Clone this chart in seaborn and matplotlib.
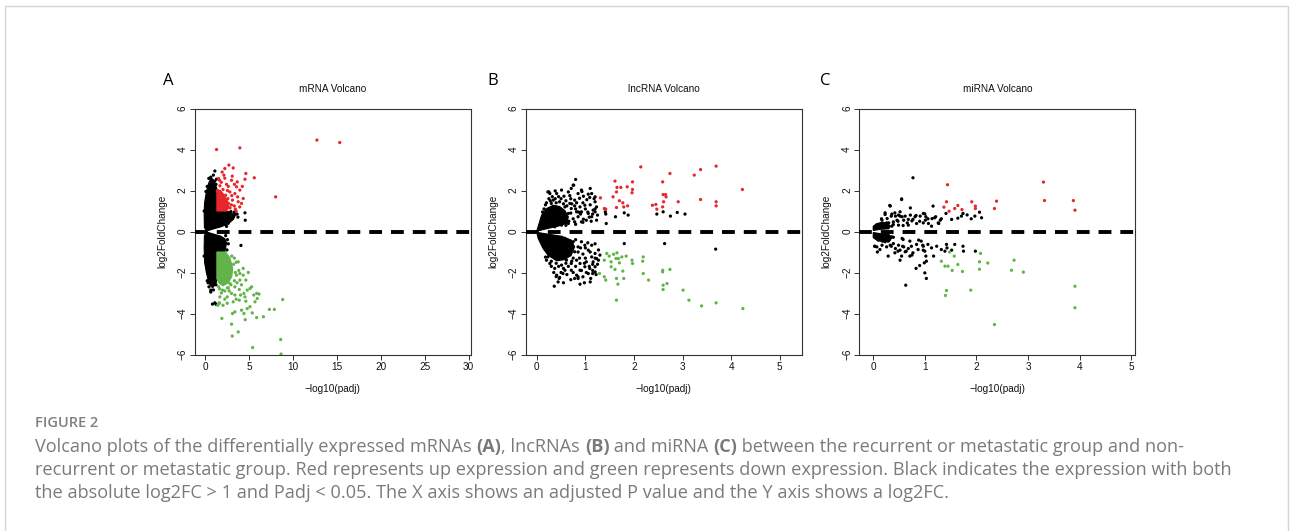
import matplotlib
matplotlib.use("Agg")
import matplotlib.pyplot as plt
import matplotlib.patches as mpatches
import numpy as np
import pandas as pd
import seaborn as sns

# ---------------- data ----------------
panel_letters = ["A", "B", "C"]
panel_titles = ["mRNA Volcano", "lncRNA Volcano", "miRNA Volcano"]
x_label = "\u2212log10(padj)"
y_label = "log2FoldChange"
y_ticks = [-6, -4, -2, 0, 2, 4, 6]
A_x_ticks = [0, 5, 10, 15, 20, 25, 30]
B_x_ticks = [0, 1, 2, 3, 4, 5]
C_x_ticks = [0, 1, 2, 3, 4, 5]
A_xlim = (-1.25, 30.2)
B_xlim = (-0.227, 5.45)
C_xlim = (-0.27, 5.08)

# ---- panel A (mRNA): dense regions as outlines, scattered points listed ----
A_black_up_x = [0.1, -0.12, -0.15, -0.1, 0.05, 0.25, 0.45, 0.7, 0.95, 1.1, 1.3, 1.3, 2.0, 2.6, 3.0, 3.4, 3.2, 2.8, 2.3, 1.7, 1.1]
A_black_up_y = [0.02, 0.2, 0.9, 1.4, 1.8, 2.2, 2.45, 2.6, 2.5, 2.3, 2.1, 1.0, 1.0, 0.98, 0.92, 0.78, 0.6, 0.45, 0.32, 0.22, 0.15]
A_black_dn_x = [0.1, 1.1, 1.7, 2.2, 2.4, 2.3, 2.2, 1.3, 1.3, 1.1, 0.8, 0.5, 0.3, 0.1, -0.1, -0.15, -0.12]
A_black_dn_y = [-0.02, -0.15, -0.22, -0.35, -0.55, -0.8, -1.0, -1.0, -2.4, -2.6, -2.75, -2.6, -2.35, -2.0, -1.5, -0.8, -0.2]
A_red_block_x = [1.3, 2.4, 2.7, 2.5, 2.1, 1.7, 1.3]
A_red_block_y = [1.0, 1.0, 1.2, 1.5, 1.8, 2.0, 2.05]
A_green_block_x = [1.3, 2.3, 2.8, 3.1, 3.0, 2.6, 2.0, 1.5, 1.3]
A_green_block_y = [-1.0, -1.0, -1.3, -1.8, -2.2, -2.5, -2.65, -2.5, -2.3]

A_red_x = [1.26, 3.92, 12.7, 15.3, 2.67, 3.16, 2.2, 1.9, 4.6, 5.56, 1.49, 2.97, 3.62, 4.5, 8.0,
           2.4, 3.54, 3.92, 4.3, 4.11, 2.0, 2.78, 3.35, 3.66, 2.3, 3.08, 2.63, 3.28, 1.64, 1.35, 3.73,
           2.8, 2.95, 2.55, 1.8, 3.0, 2.2, 3.4,
           2.1, 2.5, 3.3, 2.0, 3.9, 4.2, 3.5, 2.6, 1.6, 3.05]
A_red_y = [4.0, 4.08, 4.46, 4.34, 3.24, 3.1, 3.07, 2.9, 2.83, 2.62, 2.59, 2.5, 2.42, 2.55, 1.69,
           2.3, 2.18, 2.02, 1.61, 1.37, 2.05, 1.93, 1.85, 1.69, 1.77, 1.53, 1.37, 1.25, 2.23, 1.98, 1.45,
           1.15, 1.3, 1.6, 2.4, 1.75, 2.6, 1.1,
           2.75, 2.0, 2.3, 1.5, 1.2, 2.2, 1.0, 2.2, 2.5, 2.7]
A_black_x = [1.07, 0.38, 4.5, 4.53, 4.04, 0.8, 1.07, 0.61, 1.2, 3.4, 2.78,
             0.9, 0.6, 1.05, 1.2, 1.25, 0.2, 0.05, 3.6, 3.7, 3.3, 2.9, 2.6, 2.4, 2.7,
             2.5, 2.6, 2.45, 2.3, 1.2, 0.9, 0.6, 0.3, 0.4, -0.15, -0.15, 1.1, 0.2]
A_black_y = [2.95, 2.59, 0.91, 0.55, -0.68, -3.54, -3.48, -2.86, -3.55, 0.85, 0.67,
             2.75, 2.65, 2.45, 2.3, 2.55, 2.2, 1.95, 0.85, 0.7, 0.95, 0.97, 0.4, 0.25, 0.55,
             -0.4, -0.6, -0.9, -0.2, -2.6, -2.85, -2.95, -2.5, -2.7, -1.2, 1.0, -2.45, -2.4]
A_green_x = [4.88, 4.6, 3.92, 3.54, 4.3, 5.07, 5.26, 4.76, 4.38, 3.85, 3.35, 2.97, 2.48, 1.94, 1.64,
             1.56, 1.4, 2.48, 3.16, 3.85, 4.5, 5.83, 5.9, 5.64, 4.76, 5.07, 4.38, 5.33, 4.11, 3.35,
             3.08, 5.83, 6.6, 7.28, 7.85, 8.8, 1.87, 2.97, 3.05, 3.73, 4.53, 8.57, 5.37, 8.61,
             2.3, 2.78, 3.35, 3.92, 4.3, 3.73, 3.2, 3.4, 2.9, 1.6, 2.2, 3.0, 3.5, 1.5, 2.6,
             3.6, 4.1, 2.7, 3.3, 4.6, 2.2, 1.8, 3.5, 5.5, 4.0, 2.5, 3.8, 3.3, 1.6, 2.0, 6.1]
A_green_y = [-2.0, -2.37, -2.37, -2.13, -2.13, -2.78, -2.7, -2.86, -3.02, -2.83, -3.1, -3.02, -3.19, -2.86, -3.19,
             -3.48, -3.6, -3.5, -3.43, -3.35, -3.19, -3.02, -3.27, -3.43, -3.76, -3.67, -4.0, -3.97, -3.84, -3.92,
             -4.0, -4.2, -4.16, -3.8, -3.8, -3.32, -4.24, -4.52, -5.1, -4.9, -4.3, -5.27, -5.66, -5.98,
             -2.34, -2.54, -2.7, -2.05, -1.8, -1.48, -1.6, -2.0, -2.6, -2.8, -2.9, -1.2, -1.5, -2.7, -2.75,
             -2.5, -2.6, -2.9, -2.4, -3.4, -3.3, -3.0, -3.3, -3.1, -3.1, -2.75, -1.9, -1.3, -3.5, -3.6, -3.05]

# ---- panel B (lncRNA) ----
B_core_up_x = [0.0, 0.05, 0.1, 0.2, 0.34, 0.47, 0.58, 0.65, 0.62, 0.44, 0.23, 0.06]
B_core_up_y = [0.02, 0.4, 0.8, 1.12, 1.28, 1.22, 1.02, 0.72, 0.4, 0.26, 0.15, 0.05]
B_core_dn_x = [0.0, 0.23, 0.51, 0.71, 0.78, 0.71, 0.58, 0.41, 0.23, 0.13, 0.03]
B_core_dn_y = [-0.04, -0.13, -0.23, -0.42, -0.75, -1.15, -1.37, -1.43, -1.15, -0.83, -0.34]
B_red_x = [1.31, 1.39, 1.42, 1.57, 1.61, 1.64, 1.65, 1.73, 1.70, 1.77, 1.79, 1.64, 1.86, 1.87, 1.96, 1.97,
           1.97, 2.14, 2.38, 2.45, 2.47, 2.59, 2.6, 2.65, 2.66, 2.61, 2.59, 2.74, 2.91, 3.24, 3.37, 3.37,
           3.69, 3.69, 3.69, 4.23]
B_red_y = [1.64, 1.12, 1.09, 1.69, 2.46, 1.93, 2.15, 2.15, 1.5, 1.4, 1.2, 1.17, 2.18, 1.25, 1.89, 2.05,
           2.42, 3.15, 1.28, 1.32, 1.09, 2.42, 1.8, 1.8, 1.69, 1.45, 1.2, 2.83, 1.45, 2.75, 3.02, 1.56,
           3.19, 1.45, 1.25, 2.05]
B_green_x = [1.29, 1.39, 1.42, 1.39, 1.44, 1.49, 1.53, 1.53, 1.58, 1.65, 1.63, 1.61, 1.68, 1.70, 1.75,
             1.77, 1.64, 1.67, 1.79, 1.64, 1.84, 1.96, 1.97, 2.19, 2.18, 2.19, 2.3, 2.59, 2.59, 2.74,
             2.6, 2.6, 2.68, 3.01, 3.13, 3.39, 3.69, 4.24]
B_green_y = [-2.05, -2.21, -2.37, -1.4, -1.07, -1.2, -1.48, -1.72, -1.11, -1.04, -1.32, -1.85, -1.32, -1.53, -1.24,
             -1.93, -2.29, -2.57, -2.29, -3.35, -1.2, -1.4, -1.56, -1.24, -1.45, -2.05, -2.37, -1.89, -1.97, -1.85,
             -2.62, -2.83, -2.54, -2.86, -3.35, -3.63, -3.48, -3.76]
B_black_x = [1.41, 1.42, 1.43, 1.62, 1.8, 1.88, 2.47, 2.6, 2.75, 2.89, 3.05, 1.8, 2.63, 3.68,
             0.75, 0.71, 0.92, 1.06, 1.09, 0.96, 0.85, 0.65, 0.56, 0.51, 0.41, 0.27, 0.23, 0.34, 0.47, 0.78,
             1.2, 1.23, 1.16, 1.06, 0.99, 0.89, 0.92, 0.82, 0.71, 0.65, 0.58, 0.85, 1.13, 1.02, 0.92, 0.78,
             0.65, 0.51, 0.37, 1.23, 1.2, 0.68, 0.58, 0.44, 0.3, 0.8, 0.76, 0.25, 0.38, 1.1, 1.13, 1.2,
             0.6, 0.62, 0.7, 0.72, 0.8, 0.82, 0.88, 0.9, 0.95, 1.0, 1.03, 1.08, 1.1, 1.15, 0.75, 0.7,
             0.66, 0.55, 0.5, 0.45, 0.38, 0.32, 0.28, 0.4, 0.55, 0.78, 0.86, 0.96, 1.05, 1.2, 1.25, 1.18,
             0.93, 0.68, 0.2, 0.15, 0.12, 0.18, 0.25, 0.6, 0.8, 0.95, 1.12,
             0.36, 0.44, 0.47, 0.54, 0.71, 0.82, 0.85, 0.89, 0.99, 0.95, 1.06, 1.09, 1.16, 1.13, 1.2,
             1.23, 1.06, 0.99, 0.92, 0.85, 0.78, 0.68, 0.61, 0.51, 0.37, 0.27, 0.23, 0.75, 0.58, 1.13,
             1.02, 0.89, 0.82, 0.71, 1.2, 1.11, 0.89, 0.98, 1.1, 0.78, 0.85, 0.46, 0.41, 0.58, 1.15, 1.2,
             1.27, 0.6, 0.7, 0.8, 0.9, 0.95, 1.0, 1.05, 1.1, 1.15, 1.2, 0.88, 0.8, 0.75, 0.65, 0.6, 0.55,
             0.45, 0.4, 0.3, 0.35, 0.5, 0.62, 0.75, 0.92, 1.02, 1.25, 1.27, 1.2, 1.0, 0.85, 0.7, 0.55,
             0.2, 0.18, 1.3, 1.15, 0.98, 0.68, 0.72, 1.08, 1.22, 0.4, 0.3]
B_black_y = [0.96, 0.85, 0.39, 0.72, 0.91, 0.8, 0.85, 0.96, 0.75, 0.93, 0.85, -0.59, -0.59, -0.86,
             2.26, 2.1, 2.02, 1.82, 1.66, 1.72, 1.85, 1.93, 1.72, 2.02, 1.85, 1.85, 1.93, 1.53, 1.45, 1.53,
             1.45, 1.2, 1.04, 0.88, 1.28, 1.2, 0.96, 0.96, 1.12, 0.88, 0.72, 0.72, 0.72, 0.55, 0.47, 0.47,
             0.39, 0.31, 0.23, 0.55, 0.96, 1.37, 1.2, 1.04, 1.37, 2.54, 2.26, 1.93, 1.98, 2.1, 1.85, 1.69,
             1.5, 1.25, 1.6, 1.35, 1.1, 1.4, 1.62, 0.85, 1.4, 1.1, 1.55, 0.7, 1.3, 0.85, 0.62, 0.9,
             0.5, 0.45, 1.6, 1.7, 1.6, 1.7, 1.5, 1.4, 1.35, 1.25, 0.95, 0.6, 0.95, 1.1, 0.8, 1.6,
             1.95, 1.75, 1.4, 1.1, 0.95, 1.3, 1.6, 0.3, 0.35, 0.45, 0.5,
             -2.67, -2.46, -2.24, -2.05, -1.89, -2.13, -2.29, -1.89, -1.72, -2.21, -2.05, -1.8, -1.48, -1.24, -1.07,
             -1.32, -0.91, -0.67, -0.5, -0.75, -0.99, -1.15, -1.4, -1.64, -1.8, -1.56, -1.24, -0.5, -0.34, -0.67,
             -1.48, -1.56, -1.4, -1.56, -1.97, -2.29, -2.57, -2.5, -2.46, -2.29, -2.21, -2.29, -2.13, -1.89, -2.05, -1.72,
             -1.4, -0.45, -0.6, -0.4, -0.8, -1.1, -1.3, -0.55, -1.0, -1.6, -1.3, -1.3, -1.7, -1.3, -1.7, -1.55, -1.8,
             -1.7, -1.55, -1.45, -2.0, -2.0, -2.1, -2.0, -1.9, -2.0, -1.6, -0.9, -0.6, -0.8, -1.0, -2.35, -2.5,
             -1.4, -1.25, -1.15, -1.9, -1.55, -1.0, -1.45, -1.7, -2.1, -2.2, -1.7]

# ---- panel C (miRNA) ----
C_core_up_x = [0.0, 0.0, 0.06, 0.16, 0.28, 0.33, 0.3, 0.15, 0.05]
C_core_up_y = [0.05, 0.25, 0.38, 0.44, 0.4, 0.25, 0.13, 0.11, 0.07]
C_core_dn_x = [0.0, 0.05, 0.15, 0.3, 0.36, 0.32, 0.2, 0.08, 0.0]
C_core_dn_y = [-0.05, -0.07, -0.11, -0.13, -0.3, -0.46, -0.5, -0.44, -0.3]
C_red_x = [1.44, 1.42, 1.37, 1.47, 1.58, 1.64, 1.72, 1.91, 1.98, 1.98, 2.35, 2.39, 3.3, 3.32, 3.88, 3.91]
C_red_y = [2.28, 1.45, 1.19, 0.99, 1.12, 1.27, 1.07, 1.45, 1.24, 1.12, 1.12, 1.48, 2.41, 1.51, 1.51, 1.04]
C_green_x = [1.32, 1.39, 1.45, 1.48, 1.53, 1.57, 1.64, 1.73, 1.42, 1.4, 1.89, 2.08, 2.06, 2.06, 2.22,
             2.35, 2.68, 2.73, 2.91, 3.91, 3.91]
C_green_y = [-1.45, -1.69, -1.69, -1.0, -1.9, -1.2, -1.61, -1.95, -2.88, -3.12, -2.86, -1.07, -1.48, -1.84, -1.54,
             -4.54, -1.89, -1.4, -1.98, -2.67, -3.72]
C_black_x = [0.77, 0.55, 0.32, 0.72, 1.16, 0.83, 1.0, 1.02, 1.19, 1.26, 1.32, 1.41, 1.52, 1.71, 1.74, 1.82,
             1.9, 1.97, 2.06, 2.1, 1.64, 0.66, 0.48, 0.9, 0.97, 1.06, 0.52, 0.42, 0.35, 0.23, 0.16, 0.26,
             0.39, 0.58, 0.77, 1.13,
             0.03, 0.08, 0.18, 0.29, 0.35, 0.42, 0.48, 0.55, 0.57, 0.64, 0.71, 0.77, 0.74, 0.84, 0.87, 0.93,
             0.97, 1.0, 1.02, 1.03, 0.99, 1.06, 1.13, 1.17, 1.23, 1.32, 1.39, 1.43, 1.52, 1.58, 1.74, 1.75,
             1.98, 0.83, 0.9, 1.0, 1.03, 0.63, 0.52, 0.29, 0.13, 0.71, 0.58, 0.39, 1.42,
             0.33, 0.55, 0.23, 0.36, 0.43, 0.49, 0.56, 0.62, 0.46, 0.39, 0.3, 0.2, 0.14, 0.07, 0.04, 0.17,
             0.27, 0.52, 0.59, 0.68, 0.72, 0.75, 0.81, 0.84, 0.91, 0.97, 1.01, 1.07, 1.14, 1.21, 1.27, 1.3,
             0.68, 0.49, 0.36, 0.23, 0.1,
             0.04, 0.1, 0.17, 0.23, 0.3, 0.33, 0.39, 0.43, 0.49, 0.52, 0.59, 0.62, 0.68, 0.75, 0.2, 0.36,
             0.56, 0.26, 0.17, 0.07, 0.03, 0.88, 0.96, 0.97]
C_black_y = [2.62, 1.59, 1.27, 1.15, 1.24, 0.78, 0.86, 0.72, 0.67, 0.42, 0.62, 0.88, 0.59, 0.75, 0.88, 0.81,
             0.62, 0.75, 0.94, 0.67, 0.65, 0.42, 0.5, 0.5, 0.42, 0.62, 0.75, 0.91, 0.75, 0.83, 0.62, 0.42,
             0.34, 0.29, 0.59, 0.26,
             -0.72, -1.0, -0.47, -0.47, -0.72, -1.04, -0.96, -1.2, -0.72, -0.96, -1.2, -1.04, -0.72, -0.63, -0.88, -0.47,
             -0.72, -0.96, -1.2, -1.45, -1.53, -0.63, -0.8, -1.2, -0.72, -0.88, -0.96, -0.8, -0.91, -0.63, -0.72, -0.96,
             -0.96, -1.8, -1.66, -2.02, -2.29, -2.62, -1.4, -1.2, -0.88, -0.47, -0.39, -0.28, -0.63,
             1.24, 1.56, 0.91, 0.85, 0.75, 0.8, 0.72, 0.75, 0.55, 0.47, 0.42, 0.39, 0.31, 0.23, 0.15, 0.55,
             0.63, 0.96, 0.55, 0.59, 0.8, 0.52, 0.72, 0.39, 0.75, 0.88, 0.55, 0.39, 0.63, 0.72, 0.39, 0.55,
             0.31, 0.31, 0.26, 0.23, 0.2,
             -0.26, -0.42, -0.34, -0.5, -0.42, -0.67, -0.59, -0.83, -0.67, -0.91, -0.75, -0.99, -0.83, -1.15, -0.18, -0.26,
             -0.34, -0.75, -0.67, -0.75, -0.72, -0.42, -0.67, -0.91]

caption_head = "FIGURE 2"
caption_line1 = [("Volcano plots of the differentially expressed mRNAs ", "normal"), ("(A)", "bold"),
                 (", lncRNAs ", "normal"), ("(B)", "bold"), (" and miRNA ", "normal"), ("(C)", "bold"),
                 (" between the recurrent or metastatic group and non-", "normal")]
caption_line2 = "recurrent or metastatic group. Red represents up expression and green represents down expression. Black indicates the expression with both"
caption_line3 = "the absolute log2FC > 1 and Padj < 0.05. The X axis shows an adjusted P value and the Y axis shows a log2FC."

# ---------------- styling ----------------
sns.set_theme(style="white")
plt.rcParams['font.family'] = ['Liberation Sans', 'DejaVu Sans']
plt.rcParams['axes.unicode_minus'] = True

W, H = 1290, 531
fig = plt.figure(figsize=(W / 100, H / 100), dpi=100)
fig.patch.set_facecolor("white")

palette = {"ns": "#000000", "up": "#e8262b", "down": "#62b34a"}
RED, GREEN, BLACK = palette["up"], palette["down"], palette["ns"]


def make_df(bx, by, rx, ry, gx, gy):
    return pd.DataFrame({
        "x": list(bx) + list(rx) + list(gx),
        "y": list(by) + list(ry) + list(gy),
        "g": ["ns"] * len(bx) + ["up"] * len(rx) + ["down"] * len(gx),
    })


panels = [
    dict(left=194.5, xlim=A_xlim, xticks=A_x_ticks,
         black_polys=[(A_black_up_x, A_black_up_y), (A_black_dn_x, A_black_dn_y)],
         red_polys=[(A_red_block_x, A_red_block_y)], green_polys=[(A_green_block_x, A_green_block_y)],
         df=make_df(A_black_x, A_black_y, A_red_x, A_red_y, A_green_x, A_green_y), letter_x=168),
    dict(left=525.7, xlim=B_xlim, xticks=B_x_ticks,
         black_polys=[(B_core_up_x, B_core_up_y), (B_core_dn_x, B_core_dn_y)],
         red_polys=[], green_polys=[],
         df=make_df(B_black_x, B_black_y, B_red_x, B_red_y, B_green_x, B_green_y), letter_x=493),
    dict(left=859.3, xlim=C_xlim, xticks=C_x_ticks,
         black_polys=[(C_core_up_x, C_core_up_y), (C_core_dn_x, C_core_dn_y)], red_polys=[], green_polys=[],
         df=make_df(C_black_x, C_black_y, C_red_x, C_red_y, C_green_x, C_green_y), letter_x=825),
]

ax_w, ax_top, ax_bot = 276.0, 108.5, 354.5
for i, p in enumerate(panels):
    ax = fig.add_axes([p["left"] / W, 1 - ax_bot / H, ax_w / W, (ax_bot - ax_top) / H])
    ax.set_facecolor("white")
    for px_, py_ in p["black_polys"]:
        ax.fill(px_, py_, color=BLACK, lw=0.8, zorder=1)
    for px_, py_ in p["red_polys"]:
        ax.fill(px_, py_, color=RED, lw=0.8, zorder=2)
    for px_, py_ in p["green_polys"]:
        ax.fill(px_, py_, color=GREEN, lw=0.8, zorder=2)
    df = p["df"]
    sns.scatterplot(data=df[df.g == "ns"], x="x", y="y", hue="g", palette=palette, s=5.5,
                    linewidth=0, legend=False, ax=ax, zorder=3)
    sns.scatterplot(data=df[df.g != "ns"], x="x", y="y", hue="g", palette=palette, s=5.5,
                    linewidth=0, legend=False, ax=ax, zorder=4)
    ax.axhline(0, color="black", lw=2.8, dashes=(3.3, 2.3), zorder=5)
    ax.set_xlim(*p["xlim"])
    ax.set_ylim(-6, 6)
    ax.set_xticks(p["xticks"])
    ax.set_yticks(y_ticks)
    ax.set_xlabel("")
    ax.set_ylabel("")
    for sp in ax.spines.values():
        sp.set_visible(True)
        sp.set_color("#333333")
        sp.set_linewidth(0.8)
    ax.tick_params(axis="both", which="both", direction="out", length=3.6, width=0.7,
                   color="#333333", labelsize=7.2, labelcolor="#111111", pad=1.5,
                   bottom=True, left=True)
    ax.tick_params(axis="y", labelrotation=90)
    for lab in ax.get_yticklabels():
        lab.set_va("center")
    ax.text(0.5, 1 + 20 / 246, panel_titles[i], transform=ax.transAxes, ha="center", va="center",
            fontsize=7.2, color="#111111")
    ax.text(0.5, -34 / 246, x_label, transform=ax.transAxes, ha="center", va="center",
            fontsize=7.2, color="#111111")
    ax.text(-32.5 / ax_w, 0.5, y_label, transform=ax.transAxes, ha="center", va="center",
            rotation=90, fontsize=7.2, color="#111111")
    fig.text(p["letter_x"] / W, 1 - 81 / H, panel_letters[i], ha="center", va="center",
             fontsize=12, family="Open Sans", color="black")

# border
fig.add_artist(mpatches.Rectangle((5 / W, -0.05), (1288 - 5) / W, (1.05 - 6 / H) + 0.0,
                                  transform=fig.transFigure, fill=False, edgecolor="#d4d4d4",
                                  lw=1.0, clip_on=False))

# caption (font size fitted so the second line spans the measured width)
cap_color = "#7a7a7a"
x0 = 35 / W
fig.canvas.draw()
renderer = fig.canvas.get_renderer()
probe = fig.text(0, 0, caption_line2, fontsize=10, family="Open Sans")
w10 = probe.get_window_extent(renderer).width
probe.remove()
cap_fs = 10 * 1195.0 / w10

fig.text(x0, 1 - 423 / H, caption_head, ha="left", va="center", fontsize=10.5, family="Open Sans",
         weight="semibold", color="#808080")
xpos = 35.0
for txt, wt in caption_line1:
    t = fig.text(xpos / W, 1 - 447 / H, txt, ha="left", va="center", fontsize=cap_fs,
                 family="Open Sans", weight=wt, color=cap_color)
    bb = t.get_window_extent(renderer)
    xpos += bb.width
fig.text(x0, 1 - 470 / H, caption_line2, ha="left", va="center", fontsize=cap_fs,
         family="Open Sans", color=cap_color)
fig.text(x0, 1 - 493 / H, caption_line3, ha="left", va="center", fontsize=cap_fs,
         family="Open Sans", color=cap_color)

fig.savefig("out.png", dpi=100, facecolor="white")
